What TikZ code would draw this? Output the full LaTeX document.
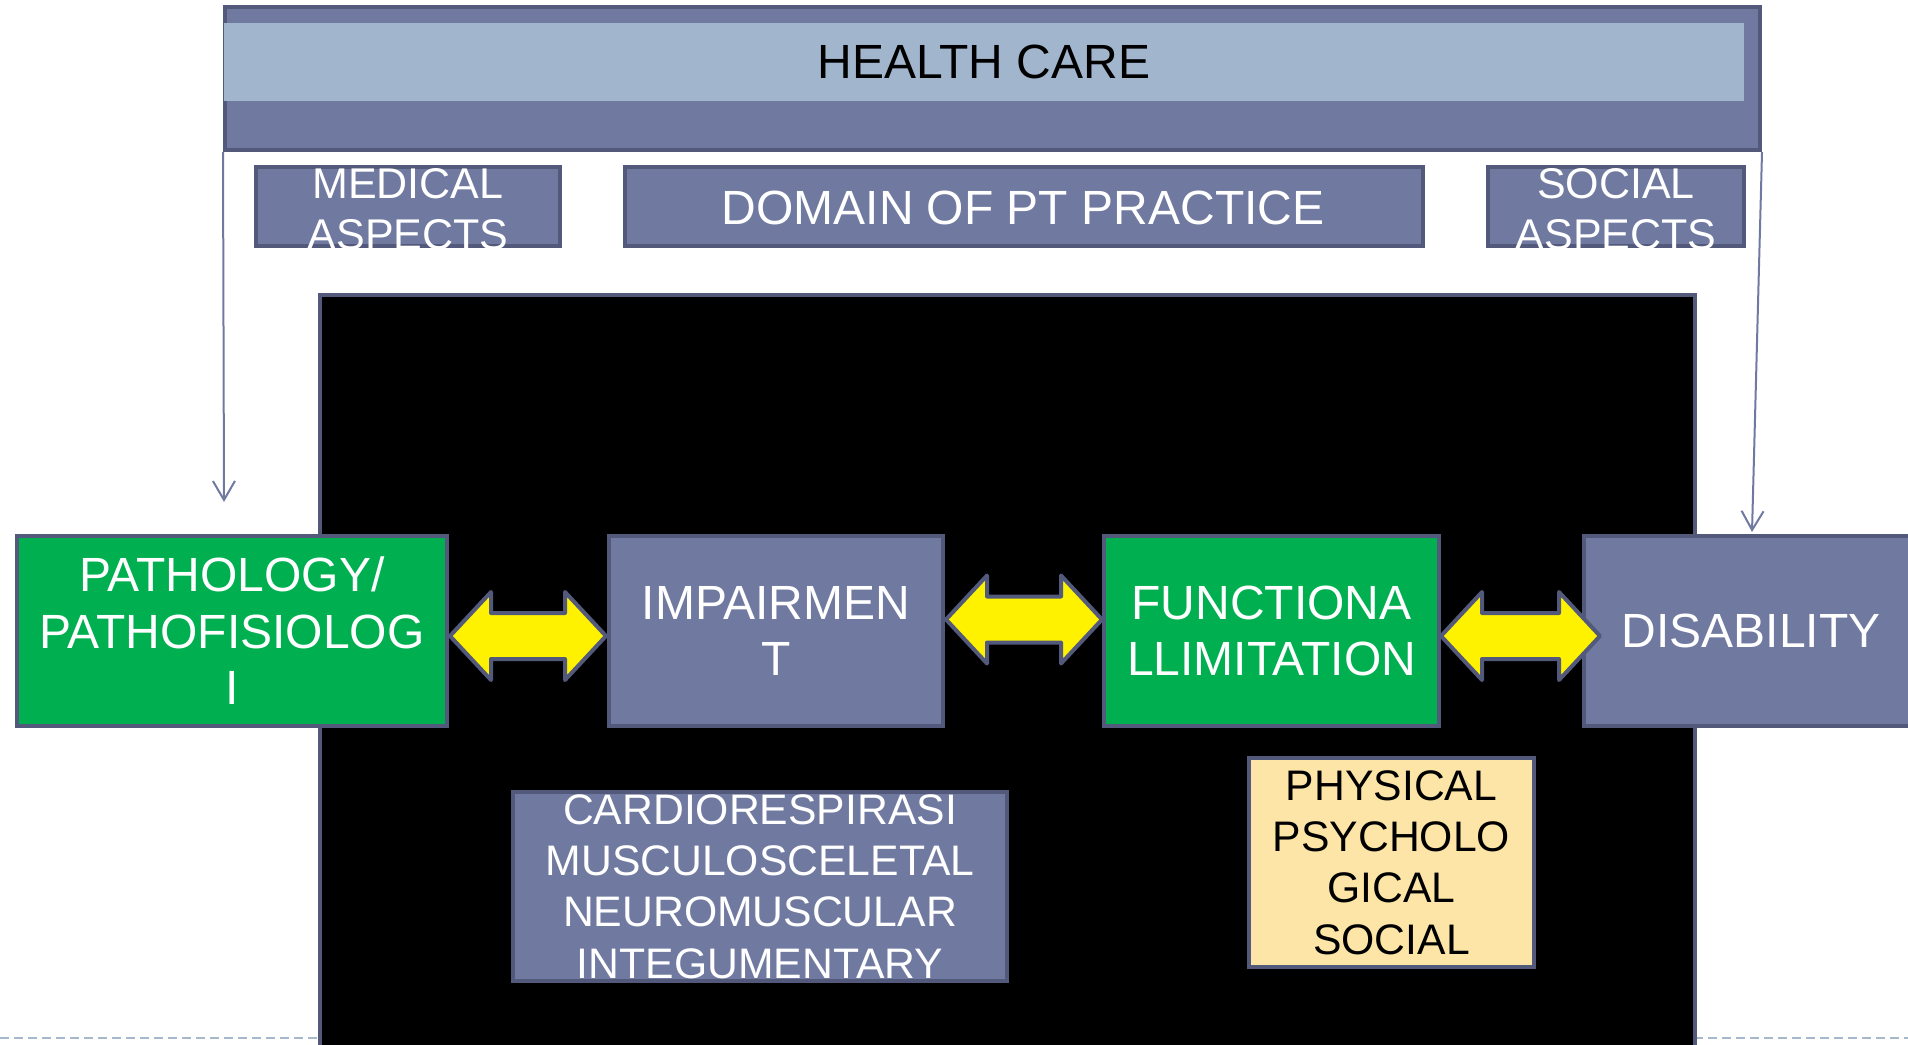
\documentclass[tikz,border=0pt]{standalone}
\usepackage{fontspec}
\setmainfont{Liberation Sans}
\usetikzlibrary{calc,arrows.meta}
\definecolor{slate}{RGB}{112,121,160}
\definecolor{edgec}{RGB}{82,89,122}
\definecolor{lightbar}{RGB}{161,182,205}
\definecolor{pgreen}{RGB}{0,176,80}
\definecolor{cream}{RGB}{252,229,166}
\definecolor{dashc}{RGB}{165,184,204}
\newcommand\yarrow[4]{%
  \coordinate (tmpL) at ($(#1.east)+(#2)$);
  \coordinate (tmpR) at ($(#3.west)+(#4)$);
  \draw[yarrowst] (tmpL) -- ($(tmpL)+(41,-44)$) -- ($(tmpL)+(41,-23)$) -- ($(tmpR)+(-41,-23)$)
    -- ($(tmpR)+(-41,-44)$) -- (tmpR) -- ($(tmpR)+(-41,44)$) -- ($(tmpR)+(-41,23)$)
    -- ($(tmpL)+(41,23)$) -- ($(tmpL)+(41,44)$) -- cycle;}
\begin{document}
\begin{tikzpicture}[x=1pt,y=-1pt,
  box/.style={draw=edgec, line width=4pt, inner sep=0pt, align=center, text=white},
  bigtext/.style={font=\fontsize{48}{56.5}\selectfont},
  midtext/.style={font=\fontsize{43}{51}\selectfont},
  smalltext/.style={font=\fontsize{42.7}{51.3}\selectfont},
  slatebox/.style={box, fill=slate},
  greenbox/.style={box, fill=pgreen},
  yarrowst/.style={draw=edgec, fill=yellow, line width=4pt, line join=round},
  thinarrow/.style={draw=slate, line width=2pt, -{Straight Barb[length=19pt,width=22pt,line width=2pt]}},
]
\clip (0,0) rectangle (1908,1044);
\useasboundingbox (0,0) rectangle (1908,1044);

% dashed base line
\coordinate (dl) at (0,1038);
\coordinate (dr) at (1908,1038);
\draw[dashc, line width=2pt, dash pattern=on 9pt off 5pt] (dl) -- (dr);

% black panel
\node[draw=edgec, line width=4pt, fill=black, inner sep=0pt, minimum width=1375, minimum height=800] (blk) at (1007.5,695) {};

% health care header
\node[slatebox, minimum width=1535, minimum height=143] (hc) at (992.5,78.5) {};
\node[fill=lightbar, inner sep=0pt, minimum width=1520, minimum height=78, bigtext, text=black] (hcbar) at (984,62) {HEALTH CARE};

% aspect boxes
\node[slatebox, minimum width=304, minimum height=79] (med) at (408,206.5) {};
\node[midtext, text=white, align=center, inner sep=0pt] (medt) at ($(med)+(0,3)$) {MEDICAL\\ASPECTS};
\node[slatebox, minimum width=798, minimum height=79] (dom) at (1024,206.5) {};
\node[bigtext, text=white, inner sep=0pt] (domt) at ($(dom)+(-1,1.5)$) {DOMAIN OF PT PRACTICE};
\node[slatebox, minimum width=256, minimum height=79] (soc) at (1616,206.5) {};
\node[midtext, text=white, align=center, inner sep=0pt] (soct) at ($(soc)+(0,3)$) {SOCIAL\\ASPECTS};

% thin arrows
\coordinate (lend) at (224,502);
\coordinate (rend) at (1752,532);
\draw[thinarrow] (hc.south west) -- (lend);
\draw[thinarrow] (hc.south east) -- (rend);

% main row
\node[greenbox, bigtext, minimum width=430, minimum height=190] (pat) at (232,631) {PATHOLOGY/\\PATHOFISIOLOG\\I};
\node[slatebox, bigtext, minimum width=334, minimum height=190] (imp) at (776,631) {IMPAIRMEN\\T};
\node[greenbox, bigtext, minimum width=335, minimum height=190] (fun) at (1271.5,631) {FUNCTIONA\\LLIMITATION};
\node[slatebox, bigtext, minimum width=334, minimum height=190] (dis) at (1751,631) {DISABILITY};

% lower boxes
\node[slatebox, smalltext, minimum width=494, minimum height=189] (car) at (760,886.5) {CARDIORESPIRASI\\MUSCULOSCELETAL\\NEUROMUSCULAR\\INTEGUMENTARY};
\node[box, fill=cream, text=black, smalltext, minimum width=285, minimum height=209] (phy) at (1391.5,862.5) {PHYSICAL\\PSYCHOLO\\GICAL\\SOCIAL};

% yellow double arrows
\yarrow{pat}{1,5}{imp}{-1,5}
\yarrow{imp}{1,-11.5}{fun}{0,-11.5}
\yarrow{fun}{0,5}{dis}{18,5}
\end{tikzpicture}
\end{document}
